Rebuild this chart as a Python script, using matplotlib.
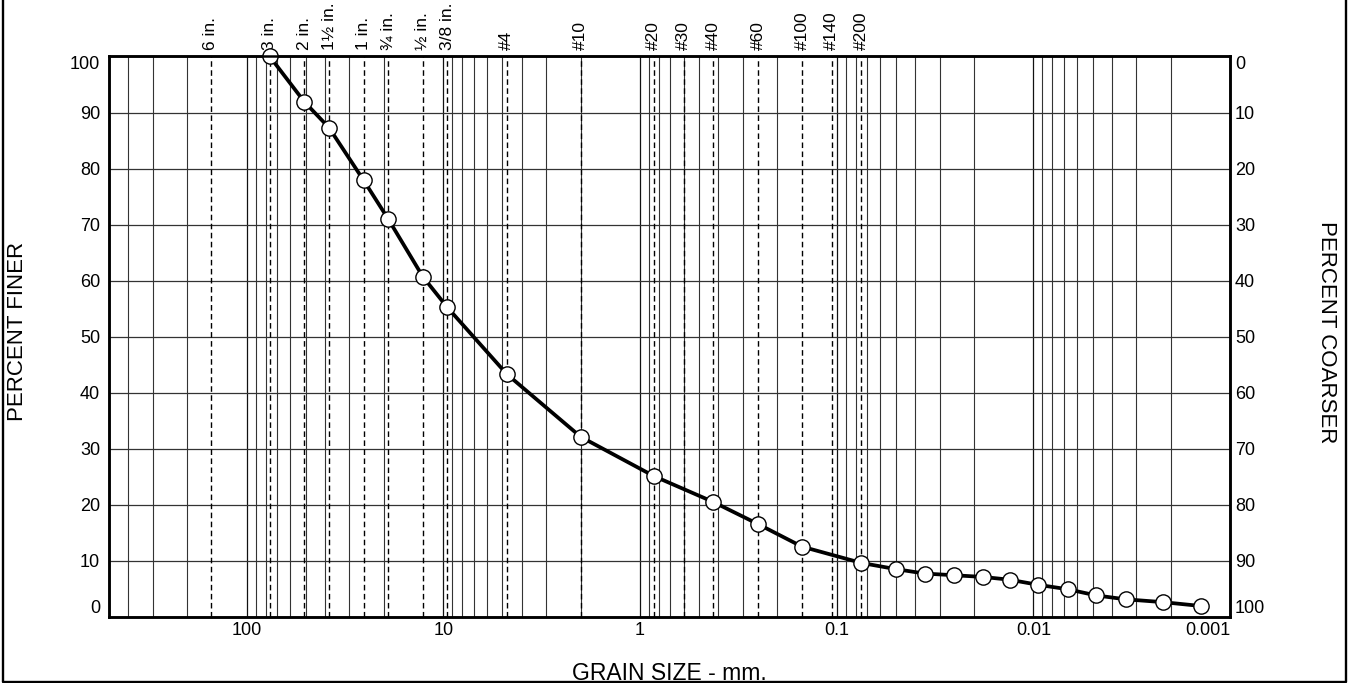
import numpy as np
import matplotlib
matplotlib.use("Agg")
import matplotlib.pyplot as plt
from matplotlib.lines import Line2D
from matplotlib.ticker import LogLocator, FixedLocator, NullFormatter

plt.rcParams['font.family'] = ['Liberation Sans', 'DejaVu Sans']

# sieve openings (mm) and their names, shown along the top
sieve_sizes = [152.4, 76.2, 50.8, 38.1, 25.4, 19.05, 12.7, 9.525, 4.75, 2.0,
               0.85, 0.6, 0.425, 0.25, 0.15, 0.106, 0.075]
sieve_names = ["6 in.", "3 in.", "2 in.", "1½ in.", "1 in.", "¾ in.", "½ in.",
               "3/8 in.", "#4", "#10", "#20", "#30", "#40", "#60", "#100",
               "#140", "#200"]

# measured grain size distribution (sieve + hydrometer)
grain_mm = [76.2, 50.8, 38.1, 25.4, 19.05, 12.7, 9.525, 4.75, 2.0, 0.85,
            0.425, 0.25, 0.15, 0.075,
            0.0502, 0.0357, 0.0254, 0.0181, 0.0132, 0.0095, 0.0067, 0.0048,
            0.0034, 0.0022, 0.0014]
pct_finer = [100, 91.9, 87.3, 77.9, 71.0, 60.7, 55.2, 43.3, 32.1, 25.1,
             20.5, 16.5, 12.5, 9.6,
             8.5, 7.7, 7.4, 7.1, 6.6, 5.7, 4.9, 3.8, 3.1, 2.6, 1.9]

x_major = [100, 10, 1, 0.1, 0.01, 0.001]
x_major_labels = ["100", "10", "1", "0.1", "0.01", "0.001"]
y_ticks = list(range(0, 101, 10))

fig = plt.figure(figsize=(13.51, 6.83), dpi=100)
ax = fig.add_axes([0.0807, 0.0971, 0.8298, 0.8202])

ax.set_xscale('log')
ax.set_xlim(500, 0.001)
ax.set_ylim(0, 100)

ax.xaxis.set_major_locator(FixedLocator(x_major))
ax.set_xticklabels(x_major_labels)
ax.xaxis.set_minor_locator(LogLocator(base=10, subs=np.arange(2, 10), numticks=50))
ax.xaxis.set_minor_formatter(NullFormatter())
ax.set_yticks(y_ticks)

ax.grid(True, which='major', axis='x', color='#111111', lw=0.9)
ax.grid(True, which='minor', axis='x', color='#333333', lw=0.8)
ax.grid(True, which='major', axis='y', color='#333333', lw=0.9)
ax.set_axisbelow(True)

# dashed lines at the standard sieves
for s, name in zip(sieve_sizes, sieve_names):
    ax.axvline(s, color='black', lw=1.0, ls=(0, (4, 2.5)), zorder=1)
    ax.text(s, 1.012, name, transform=ax.get_xaxis_transform(), rotation=90,
            ha='center', va='bottom', fontsize=12.5)

ax.plot(grain_mm, pct_finer, color='black', lw=2.7, marker='o', ms=11,
        mfc='white', mec='black', mew=1, zorder=4, clip_on=False)

ax.tick_params(axis='both', which='both', length=0, labelsize=13)
ax.tick_params(axis='y', pad=6.5)
ax.tick_params(axis='x', pad=4)
for sp in ax.spines.values():
    sp.set_linewidth(1.8)

ylabs = ax.get_yticklabels()
ylabs[0].set_va('bottom')
ylabs[-1].set_va('top')
xlabs = ax.get_xticklabels()
xlabs[-1].set_ha('right')

# right axis: percent coarser
ax2 = ax.twinx()
ax2.set_ylim(100, 0)
ax2.set_yticks(y_ticks)
ax2.tick_params(axis='y', length=0, labelsize=13, pad=3.5)
for sp in ax2.spines.values():
    sp.set_linewidth(1.8)
rlabs = ax2.get_yticklabels()
rlabs[0].set_va('top')
rlabs[-1].set_va('bottom')

fig.text(0.0133, 0.515, "PERCENT FINER", rotation=90, ha='center', va='center', fontsize=16)
fig.text(0.982, 0.513, "PERCENT COARSER", rotation=-90, ha='center', va='center', fontsize=16)
fig.text(0.4955, 1 - 680 / 683, "GRAIN SIZE - mm.", ha='center', va='baseline', fontsize=16.5)

# outer frame (open at the top)
x0, x1 = 2.5 / 1351, 1346 / 1351
y0 = 1 - 681.5 / 683
fig.add_artist(Line2D([x0, x0, x1, x1], [1.0, y0, y0, 1.0], transform=fig.transFigure,
                      color='black', lw=1.7))

fig.savefig("out.png", dpi=100)
